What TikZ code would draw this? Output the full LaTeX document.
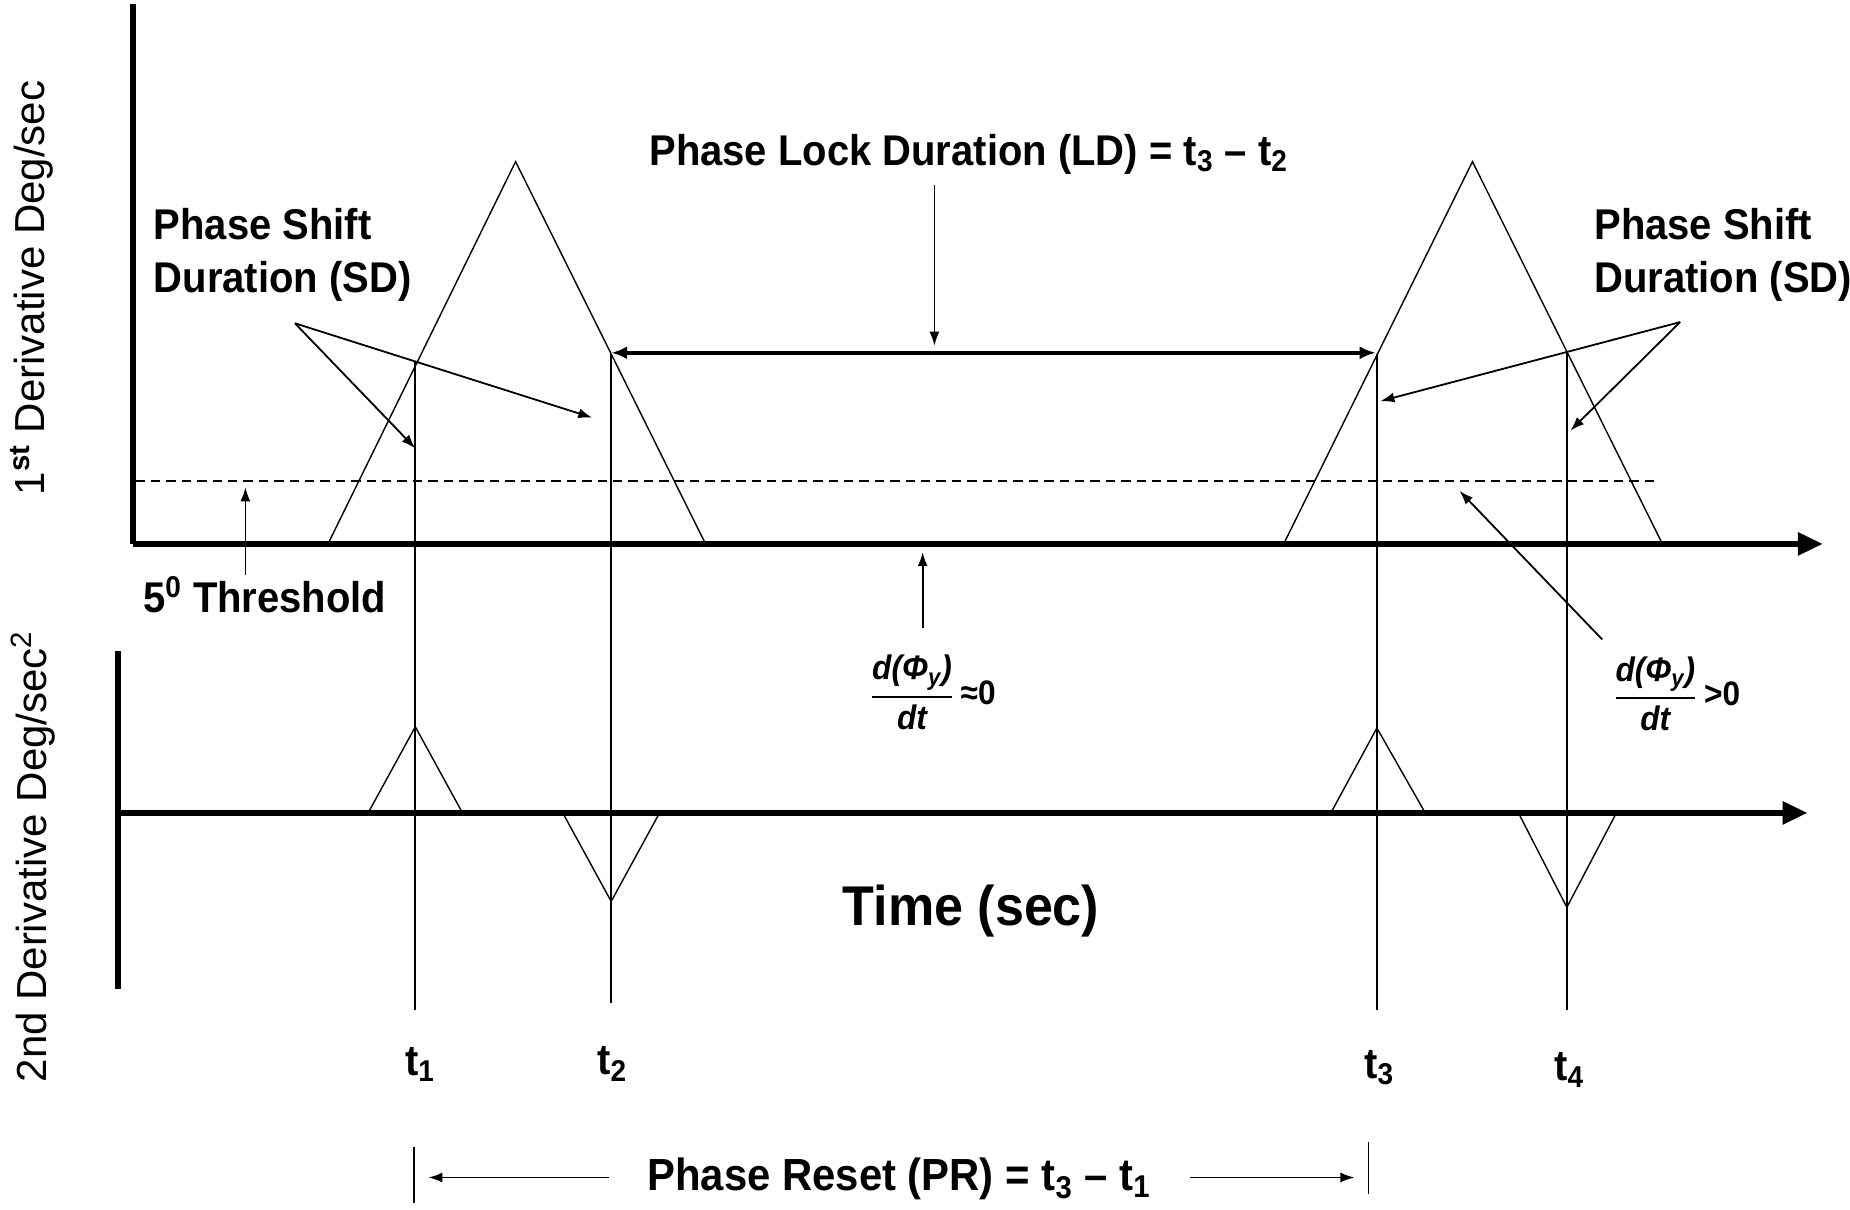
\documentclass[tikz,border=0pt]{standalone}
\usepackage{fontspec}
\setmainfont{Liberation Sans}
\newfontfamily\nb{Liberation Sans}[FakeStretch=0.93]
\usetikzlibrary{arrows.meta}
\begin{document}
\begin{tikzpicture}[x=0.59pt,y=-0.59pt,
  axis/.style={line width=2.9pt},
  axarrow/.style={axis,-{Triangle[length=12.5pt,width=11pt]}},
  curve/.style={line width=0.7pt},
  tline/.style={line width=0.9pt},
  ptr/.style={line width=0.9pt,-{Latex[length=7pt,width=5pt]}},
  dbl/.style={line width=2pt,{Latex[length=8pt,width=6.5pt]}-{Latex[length=8pt,width=6.5pt]}},
  lbl/.style={font=\nb\bfseries\fontsize{21.5}{26.5}\selectfont,inner sep=0pt},
  big/.style={font=\nb\bfseries\fontsize{28}{32}\selectfont,inner sep=0pt},
  ylbl/.style={font=\fontsize{21}{25}\selectfont,inner sep=0pt,rotate=90},
  frac/.style={font=\nb\bfseries\itshape\fontsize{17}{19}\selectfont,inner sep=0pt},
  fracr/.style={font=\nb\bfseries\fontsize{17}{19}\selectfont,inner sep=0pt,anchor=west},
]
\useasboundingbox (0,0) rectangle (1568,1025);

% ---------- upper plot ----------
\coordinate (ytop) at (113,3);
\coordinate (o1) at (113,461);
\coordinate (xend1) at (1545,461);
\draw[axis] (ytop) -- (o1);
\draw[axarrow] (o1) -- (xend1);

\draw[line width=0.9pt,dash pattern=on 4.7pt off 3pt] (115,408) -- (1405,408);

% first derivative peaks
\draw[curve] (278,461) -- (437,137) -- (598,461);
\draw[curve] (1088,461) -- (1248,137) -- (1409,461);

% time markers
\coordinate (t1top) at (352,307);  \coordinate (t1bot) at (352,856);
\coordinate (t2top) at (518,300);  \coordinate (t2bot) at (518,850);
\coordinate (t3top) at (1167,300); \coordinate (t3bot) at (1167,856);
\coordinate (t4top) at (1328,298); \coordinate (t4bot) at (1328,856);
\draw[tline] (t1top) -- (t1bot);
\draw[tline] (t2top) -- (t2bot);
\draw[tline] (t3top) -- (t3bot);
\draw[tline] (t4top) -- (t4bot);

% Phase lock duration
\draw[dbl] (518,299) -- (1166,299);
\node[lbl,anchor=base] (ld) at (821,140) {Phase Lock Duration (LD) = t\textsubscript{3} – t\textsubscript{2}};
\coordinate (ldtip) at (792,293);
\draw[ptr] (792,157) -- (ldtip);

% Phase shift labels
\node[lbl,anchor=north west,align=left] (sdl) at (130,176) {Phase Shift\\Duration (SD)};
\coordinate (sdlc) at (250,274);
\coordinate (sdla) at (352,380);
\coordinate (sdlb) at (502,354);
\draw[ptr] (sdlc) -- (sdla);
\draw[ptr] (sdlc) -- (sdlb);

\node[lbl,anchor=north west,align=left] (sdr) at (1351,176) {Phase Shift\\Duration (SD)};
\coordinate (sdrc) at (1424,273);
\coordinate (sdra) at (1170,340);
\coordinate (sdrb) at (1331,365);
\draw[ptr] (sdrc) -- (sdra);
\draw[ptr] (sdrc) -- (sdrb);

% threshold
\node[lbl,anchor=base west] (thr) at (121,519) {5\textsuperscript{0} Threshold};
\coordinate (thrtip) at (208,413);
\draw[ptr] (208,487) -- (thrtip);

% derivative annotations
\node[frac] (f0) at (773,587) {$\displaystyle{\mbox{d(Φ\textsubscript{y})}\above 1pt\mbox{dt}}$};
\node[fracr] (f0r) at (f0.east) {\,≈0};
\coordinate (f0tip) at (782,468);
\draw[ptr] (782,532) -- (f0tip);

\node[frac] (f1) at (1403,588) {$\displaystyle{\mbox{d(Φ\textsubscript{y})}\above 1pt\mbox{dt}}$};
\node[fracr] (f1r) at (f1.east) {\,>0};
\coordinate (f1tip) at (1237,416);
\draw[ptr] (1358,542) -- (f1tip);

% ---------- lower plot ----------
\coordinate (ytop2) at (100,552);
\coordinate (ybot2) at (100,838);
\coordinate (o2) at (100,689);
\coordinate (xend2) at (1532,689);
\draw[axis] (ytop2) -- (ybot2);
\draw[axarrow] (o2) -- (xend2);

\draw[curve] (312,689) -- (352,616) -- (392,689);
\draw[curve] (477,689) -- (518,764) -- (559,689);
\draw[curve] (1128,689) -- (1167,617) -- (1208,689);
\draw[curve] (1287,689) -- (1328,769) -- (1370,689);

\node[big] (time) at (823,772) {Time (sec)};

% time labels
\node[lbl] (lt1) at (356,902) {t\textsubscript{1}};
\node[lbl] (lt2) at (519,902) {t\textsubscript{2}};
\node[lbl] (lt3) at (1169,905) {t\textsubscript{3}};
\node[lbl] (lt4) at (1330,907) {t\textsubscript{4}};

% phase reset
\draw[line width=0.8pt] (351,972) -- (351,1020);
\draw[line width=0.8pt] (1160,968) -- (1160,1012);
\node[lbl,font=\nb\bfseries\fontsize{22.5}{26}\selectfont] (pr) at (762,999) {Phase Reset (PR) = t\textsubscript{3} – t\textsubscript{1}};
\draw[ptr] (516,998) -- (363,998);
\draw[ptr] (1009,998) -- (1148,998);

% axis titles
\node[ylbl] (y1) at (27,244) {1\textsuperscript{\bfseries st} Derivative Deg/sec};
\node[ylbl] (y2) at (28,726) {2nd Derivative Deg/sec\textsuperscript{2}};
\end{tikzpicture}
\end{document}
